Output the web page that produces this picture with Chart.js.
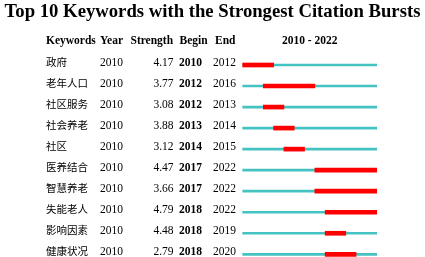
<!DOCTYPE html>
<html>
<head>
<meta charset="utf-8">
<script src="https://cdn.jsdelivr.net/npm/chart.js@4/dist/chart.umd.min.js"></script>
<style>
  html, body { margin: 0; padding: 0; background: #fff; }
  canvas { display: block; }
</style>
</head>
<body>
<canvas id="myChart" width="425" height="257"></canvas>
<script>
// burst table data
var titleText = 'Top 10 Keywords with the Strongest Citation Bursts';
var keywords = ['政府', '老年人口', '社区服务', '社会养老', '社区', '医养结合', '智慧养老', '失能老人', '影响因素', '健康状况'];
var years = [2010, 2010, 2010, 2010, 2010, 2010, 2010, 2010, 2010, 2010];
var strengths = ['4.17', '3.77', '3.08', '3.88', '3.12', '4.47', '3.66', '4.79', '4.48', '2.79'];
var begins = [2010, 2012, 2012, 2013, 2014, 2017, 2017, 2018, 2018, 2018];
var ends = [2012, 2016, 2013, 2014, 2015, 2022, 2022, 2022, 2019, 2020];
var rangeStart = 2010;
var rangeEnd = 2022;

var serif = "'Liberation Serif', 'Times New Roman', 'Noto Sans CJK SC', serif";

// bursts cover whole years, so a burst ending in 2012 runs to the start of 2013
var burstData = begins.map((b, i) => [b, ends[i] + 1]);
var fullData = keywords.map(() => [rangeStart, rangeEnd + 1]);

// draws the title and the text columns of the table
var tablePlugin = {
  id: 'burstTable',
  afterDraw(chart) {
    let ctx = chart.ctx;
    let yScale = chart.scales.y;
    let area = chart.chartArea;
    ctx.save();
    ctx.fillStyle = '#000';
    ctx.textBaseline = 'alphabetic';

    ctx.font = 'bold 18.7px ' + serif;
    ctx.textAlign = 'center';
    ctx.fillText(titleText, chart.width / 2, 17);

    ctx.font = 'bold 11.5px ' + serif;
    ctx.textAlign = 'left';
    ctx.fillText('Keywords', 46, 44);
    ctx.fillText('Year', 100, 44);
    ctx.fillText('Strength', 130.5, 44);
    ctx.fillText('Begin', 179.5, 44);
    ctx.fillText('End', 215, 44);
    ctx.textAlign = 'center';
    ctx.fillText(rangeStart + ' - ' + rangeEnd, (area.left + area.right) / 2, 44);

    for (let i = 0; i < keywords.length; i++) {
      let y = yScale.getPixelForValue(i) + 0.5;
      ctx.textAlign = 'left';
      ctx.font = '10.5px ' + serif;
      ctx.fillText(keywords[i], 46, y);
      ctx.font = '11.5px ' + serif;
      ctx.fillText(years[i], 100, y);
      ctx.textAlign = 'right';
      ctx.fillText(strengths[i], 173.5, y);
      ctx.textAlign = 'left';
      ctx.font = 'bold 11.5px ' + serif;
      ctx.fillText(begins[i], 179, y);
      ctx.font = '11.5px ' + serif;
      ctx.fillText(ends[i], 213, y);
    }
    ctx.restore();
  }
};

new Chart('myChart', {
  type: 'bar',
  data: {
    labels: keywords,
    datasets: [{
      label: 'burst',
      data: burstData,
      backgroundColor: '#ff0000',
      barThickness: 4,
      grouped: false,
      clip: false,
      order: 0
    }, {
      label: 'range',
      data: fullData,
      backgroundColor: '#45c3c3',
      barThickness: 2,
      grouped: false,
      clip: false,
      order: 1
    }]
  },
  options: {
    indexAxis: 'y',
    responsive: false,
    animation: false,
    devicePixelRatio: 1,
    layout: {
      padding: { left: 242.7, right: 48.3, top: 65, bottom: 2.7 }
    },
    scales: {
      x: { type: 'linear', min: rangeStart, max: rangeEnd + 1, display: false },
      y: { display: false, offset: false }
    },
    plugins: {
      legend: { display: false },
      title: { display: false },
      tooltip: { enabled: false }
    }
  },
  plugins: [tablePlugin]
});
</script>
</body>
</html>
